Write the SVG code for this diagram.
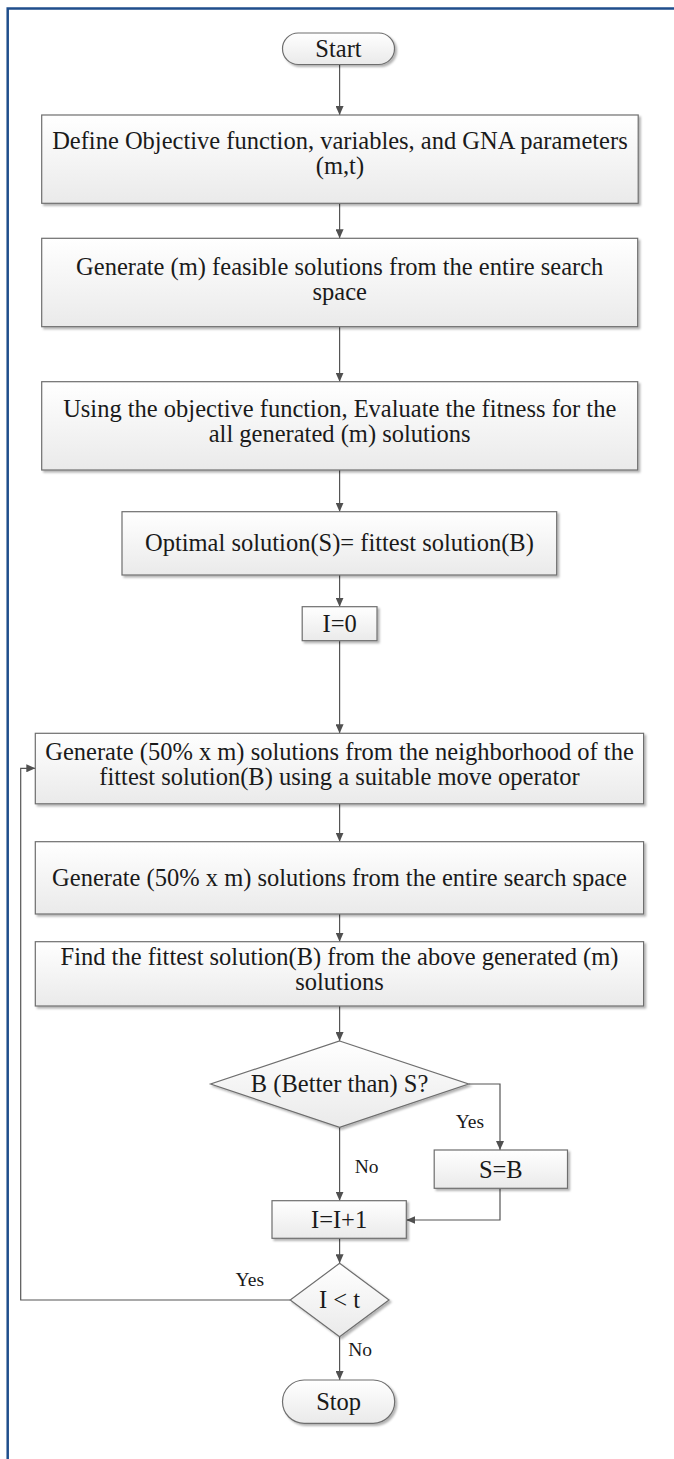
<svg xmlns="http://www.w3.org/2000/svg" width="674" height="1459" viewBox="0 0 674 1459">
<defs>
<linearGradient id="g" x1="0" y1="0" x2="0" y2="1"><stop offset="0" stop-color="#ffffff"/><stop offset="1" stop-color="#eaeaea"/></linearGradient>
<filter id="sh" x="-5%" y="-10%" width="115%" height="140%"><feDropShadow dx="2" dy="2" stdDeviation="1" flood-color="#000" flood-opacity="0.3"/></filter>
<marker id="arr" markerWidth="10" markerHeight="8" refX="9" refY="4" orient="auto" markerUnits="userSpaceOnUse"><path d="M0,0 L9,4 L0,8 z" fill="#505050"/></marker>
</defs>
<style>
.box{fill:url(#g);stroke:#6e6e6e;stroke-width:1.2;filter:url(#sh)}
.t{font-family:"Liberation Serif","Times New Roman",serif;font-size:24.5px;fill:#1a1a1a;text-anchor:middle}
.lbl{font-family:"Liberation Serif","Times New Roman",serif;font-size:19.5px;fill:#1a1a1a}
.c{fill:none;stroke:#555;stroke-width:1.2;marker-end:url(#arr)}
.ln{fill:none;stroke:#555;stroke-width:1.2}
.frame{fill:none;stroke:#1f4e8c;stroke-width:2.5}
</style>
<rect width="674" height="1459" fill="#ffffff"/>
<g id="frame"><path class="frame" d="M7.7,1459 V8.5 H674"/></g>

<g id="connectors">
<line class="c" x1="339.6" y1="64.3" x2="339.6" y2="115"/>
<line class="c" x1="339.6" y1="203.3" x2="339.6" y2="238.3"/>
<line class="c" x1="339.6" y1="326.7" x2="339.6" y2="381.7"/>
<line class="c" x1="339.6" y1="470" x2="339.6" y2="511.7"/>
<line class="c" x1="339.6" y1="575" x2="339.6" y2="606.7"/>
<line class="c" x1="339.6" y1="640.7" x2="339.6" y2="733.3"/>
<line class="c" x1="339.6" y1="803.8" x2="339.6" y2="841.7"/>
<line class="c" x1="339.6" y1="914" x2="339.6" y2="941.7"/>
<line class="c" x1="339.6" y1="1006" x2="339.6" y2="1041"/>
<path class="c" d="M468.6,1084 H500 V1150"/>
<path class="c" d="M339.6,1127.3 V1200.7"/>
<path class="c" d="M500,1188.3 V1220 H406.3"/>
<line class="c" x1="339.6" y1="1238.3" x2="339.6" y2="1263.3"/>
<path class="c" d="M290.2,1300 H20.7 V768.3 H35.3"/>
<line class="c" x1="339.6" y1="1336.7" x2="339.6" y2="1380"/>
<text class="lbl" x="455.7" y="1128">Yes</text>
<text class="lbl" x="354.7" y="1173">No</text>
<text class="lbl" x="235.6" y="1286">Yes</text>
<text class="lbl" x="348.2" y="1356">No</text>
</g>

<g id="start"><rect class="box" x="282.5" y="33" width="112" height="31.5" rx="15.7"/><text class="t" x="338.5" y="57">Start</text></g>
<g id="define"><rect class="box" x="41.7" y="115" width="596.5" height="88.3"/><text class="t" x="339.9" y="149">Define Objective function, variables, and GNA parameters</text><text class="t" x="339.9" y="174">(m,t)</text></g>
<g id="generate"><rect class="box" x="41.7" y="238.3" width="596" height="88.4"/><text class="t" x="339.7" y="274.5">Generate (m) feasible solutions from the entire search</text><text class="t" x="339.7" y="299.5">space</text></g>
<g id="evaluate"><rect class="box" x="41.7" y="381.7" width="596" height="88.3"/><text class="t" x="339.7" y="417">Using the objective function, Evaluate the fitness for the</text><text class="t" x="339.7" y="442">all generated (m) solutions</text></g>
<g id="optimal"><rect class="box" x="122" y="511.7" width="434.7" height="63.3"/><text class="t" x="339.4" y="550.5">Optimal solution(S)= fittest solution(B)</text></g>
<g id="i0"><rect class="box" x="302.2" y="606.7" width="74.8" height="34"/><text class="t" x="339.6" y="632">I=0</text></g>
<g id="gen50n"><rect class="box" x="35.3" y="733.3" width="608.3" height="70.5"/><text class="t" x="339.5" y="759.5">Generate (50% x m) solutions from the neighborhood of the</text><text class="t" x="339.5" y="784.5">fittest solution(B) using a suitable move operator</text></g>
<g id="gen50e"><rect class="box" x="35.3" y="841.7" width="608.3" height="72.3"/><text class="t" x="339.5" y="885.5">Generate (50% x m) solutions from the entire search space</text></g>
<g id="find"><rect class="box" x="35.3" y="941.7" width="608.3" height="64.3"/><text class="t" x="339.5" y="964.5">Find the fittest solution(B) from the above generated (m)</text><text class="t" x="339.5" y="989.5">solutions</text></g>
<g id="better"><polygon class="box" points="339.6,1041 468.6,1084 339.6,1127.3 210.6,1084"/><text class="t" x="339.6" y="1091.5">B (Better than) S?</text></g>
<g id="sb"><rect class="box" x="434.2" y="1150" width="133.3" height="38.3"/><text class="t" x="500.8" y="1177.5">S=B</text></g>
<g id="inc"><rect class="box" x="272" y="1200.7" width="134.3" height="37.6"/><text class="t" x="339.1" y="1227.5">I=I+1</text></g>
<g id="less"><polygon class="box" points="339.6,1263.3 389,1300 339.6,1336.7 290.2,1300"/><text class="t" x="339.6" y="1308">I &lt; t</text></g>
<g id="stop"><rect class="box" x="282.5" y="1380" width="112.2" height="43.3" rx="21.6"/><text class="t" x="338.6" y="1410">Stop</text></g>
</svg>
